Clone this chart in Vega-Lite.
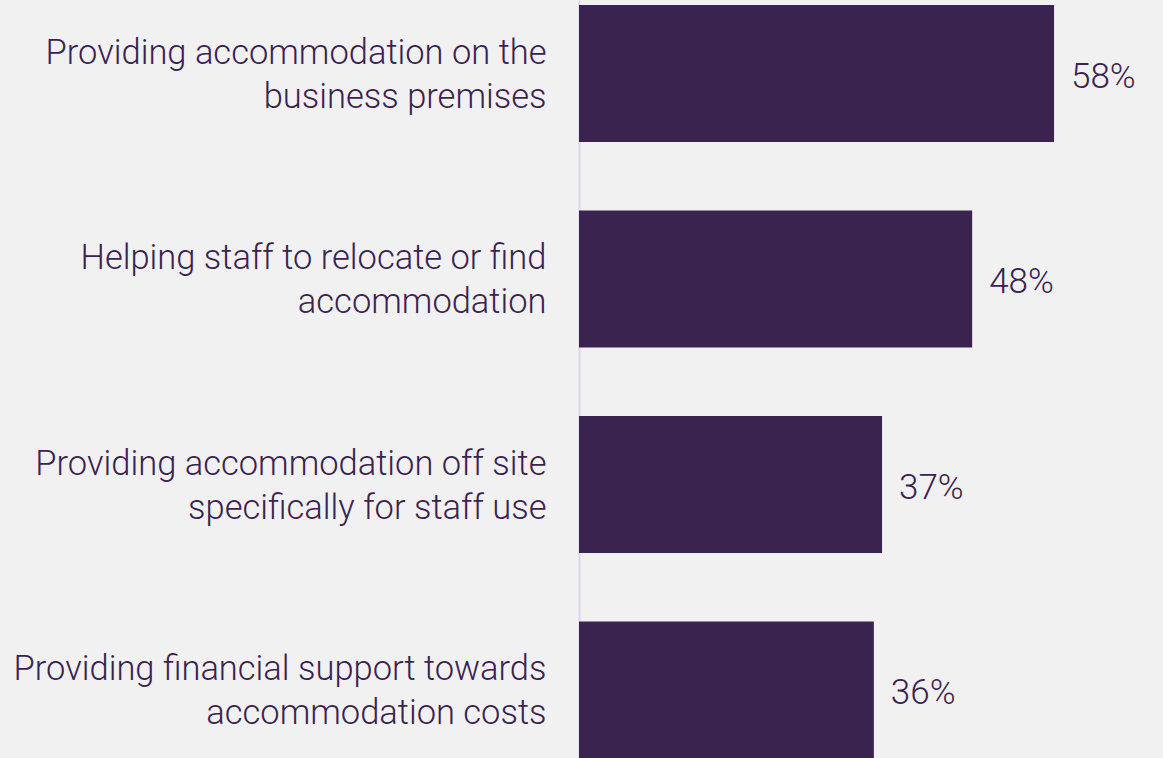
{
  "$schema": "https://vega.github.io/schema/vega-lite/v6.json",
  "autosize": {"type": "none"},
  "width": 584,
  "height": {"step": 205.5},
  "padding": {"left": 579, "top": 0, "right": 0, "bottom": 0},
  "background": "#f2f1f1",
  "config": {"view": {"stroke": null}},
  "data": {"values": [
    {"cat": "Providing accommodation on the|business premises", "value": 0.58},
    {"cat": "Helping staff to relocate or find|accommodation", "value": 0.48},
    {"cat": "Providing accommodation off site|specifically for staff use", "value": 0.37},
    {"cat": "Providing financial support towards|accommodation costs", "value": 0.36}
  ]},
  "encoding": {
    "y": {
      "field": "cat", "type": "nominal", "sort": null,
      "scale": {"paddingInner": 0.333, "paddingOuter": 0.0243},
      "axis": {
        "title": null, "ticks": false, "labelPadding": 33, "labelOffset": -20,
        "labelExpr": "split(datum.label, '|')",
        "labelFont": "Roboto", "labelFontSize": 34.5, "labelFontWeight": 300, "labelLineHeight": 44,
        "labelColor": "#3a234f", "labelLimit": 700,
        "domainColor": "#dcd1f0", "domainWidth": 2
      }
    },
    "x": {
      "field": "value", "type": "quantitative",
      "scale": {"domain": [0, 0.713], "nice": false},
      "axis": null
    }
  },
  "layer": [
    {"mark": {"type": "bar", "color": "#3a234f"}},
    {
      "mark": {"type": "text", "align": "left", "baseline": "middle", "dx": 17, "dy": 3, "font": "Roboto", "fontSize": 35, "fontWeight": 300, "color": "#3a234f"},
      "encoding": {"text": {"field": "value", "type": "quantitative", "format": ".0%"}}
    }
  ]
}
